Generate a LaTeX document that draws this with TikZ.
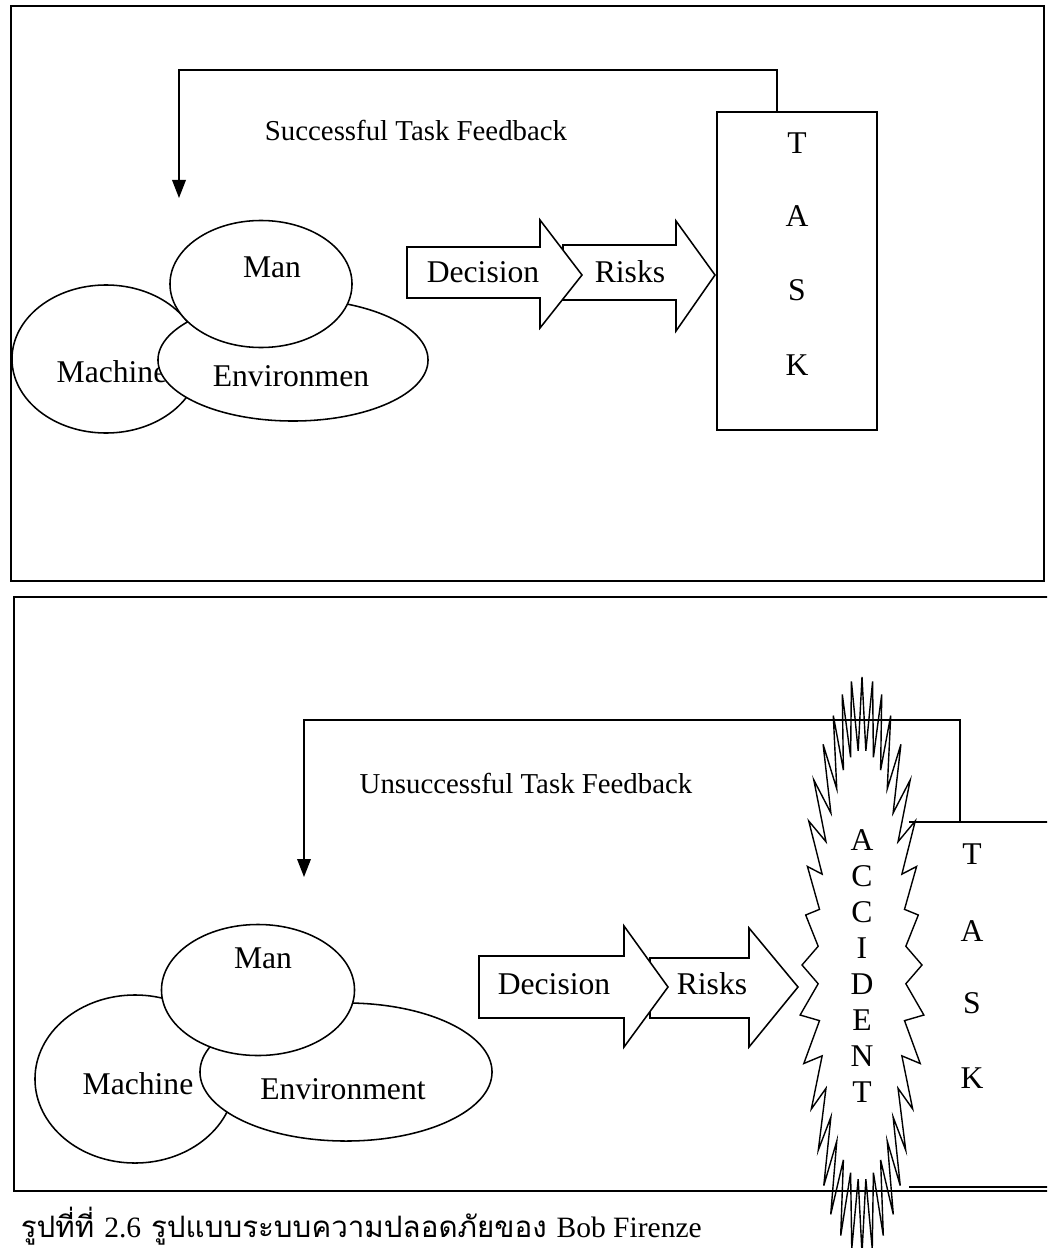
\documentclass[tikz,border=0pt]{standalone}
\usepackage{fontspec}
\setmainfont{Liberation Serif}
\newfontfamily\thaifont[Script=Thai]{Loma}
\usetikzlibrary{shapes.geometric}
\usetikzlibrary{arrows.meta}
\usetikzlibrary{calc}

\begin{document}
\begin{tikzpicture}[x=0.025cm,y=-0.025cm,line width=1.1pt,
  blob/.style={draw,ellipse,fill=white,inner sep=0pt},
  txt/.style={inner sep=0pt,font=\fontsize{22.5}{24}\selectfont},
  fbtxt/.style={inner sep=0pt,font=\fontsize{20.5}{22}\selectfont},
  fback/.style={-{Triangle[length=0.45cm,width=0.34cm]}},
  barrow/.style={draw,fill=white,line join=miter}]
  \useasboundingbox (0,0) rectangle (1047,1248);
  \clip (0,0) rectangle (1047,1248);

  % successful task
  \draw (11,6) rectangle (1044,581);
  \node[draw,minimum width=4cm,minimum height=7.95cm,inner sep=0pt] (task1) at (797,271) {};
  \foreach \ch/\y in {T/143,A/216,S/290,K/365}
    \node[txt] (task1\ch) at (797,\y) {\ch};

  \coordinate (in1) at (179,198);
  \draw[fback] ($(task1.north west)+(61,0)$) |- ($(in1)+(0,-128)$) -- (in1);
  \node[fbtxt] (fb1) at (416,130) {Successful Task Feedback};

  \draw[barrow] (563,245) -- (676,245) -- (676,221) -- (715,275) -- (676,331) -- (676,300) -- (563,300) -- cycle;
  \draw[barrow] (407,247) -- (540,247) -- (540,220) -- (582,275) -- (540,328) -- (540,298) -- (407,298) -- cycle;
  \node[txt] (dec1) at (483,272) {Decision};
  \node[txt] (risk1) at (630,272) {Risks};

  \node[blob,minimum width=4.7cm,minimum height=3.7cm] (mach1) at (106,359) {};
  \node[txt] (mach1t) at (112,372) {Machine};
  \node[blob,minimum width=6.75cm,minimum height=3.05cm] (env1) at (293,360) {};
  \node[txt] (env1t) at (291,376) {Environmen};
  \node[blob,minimum width=4.55cm,minimum height=3.175cm] (man1) at (261,284) {};
  \node[txt] (man1t) at (272,267) {Man};

  % unsuccessful task
  \node[minimum width=5cm,minimum height=9.075cm,inner sep=0pt] (task2) at (1010,1004.5) {};
  \draw (task2.north west) -- (task2.north east) (task2.south west) -- (task2.south east);
  \foreach \ch/\y in {T/854,A/931,S/1003,K/1078}
    \node[txt] (task2\ch) at (972,\y) {\ch};

  \draw[fill=white,line join=miter,line width=1pt] ({862+44*cos(-5)},{965+215*sin(-5)})
    \foreach \a in {0,10,...,350} {
      -- ({862+(60+3*sin(7*\a))*cos(\a)},{965+288*sin(\a)})
      -- ({862+44*cos(\a+5)},{965+215*sin(\a+5)}) } -- cycle;
  \foreach \ch [count=\i] in {A,C,C,I,D,E,N,T}
    \node[txt] (acc\i) at (862,804+36*\i) {\ch};

  \draw (1060,597) -- (14,597) -- (14,1191) -- (1060,1191);

  \coordinate (in2) at (304,877);
  \draw[fback] ($(task2.north west)+(51,0)$) |- ($(in2)+(0,-157)$) -- (in2);
  \node[fbtxt] (fb2) at (526,783) {Unsuccessful Task Feedback};

  \draw[barrow] (650,958) -- (749,958) -- (749,928) -- (798,987) -- (749,1047) -- (749,1018) -- (650,1018) -- cycle;
  \draw[barrow] (479,956) -- (624,956) -- (624,926) -- (668,987) -- (624,1047) -- (624,1018) -- (479,1018) -- cycle;
  \node[txt] (dec2) at (554,984) {Decision};
  \node[txt] (risk2) at (712,984) {Risks};

  \node[blob,minimum width=5cm,minimum height=4.2cm] (mach2) at (135,1079) {};
  \node[txt] (mach2t) at (138,1084) {Machine};
  \node[blob,minimum width=7.3cm,minimum height=3.45cm] (env2) at (346,1072) {};
  \node[txt] (env2t) at (343,1089) {Environment};
  \node[blob,minimum width=4.825cm,minimum height=3.275cm] (man2) at (258,990) {};
  \node[txt] (man2t) at (263,958) {Man};

  \node[anchor=west,inner sep=0pt,font=\thaifont\fontsize{21}{24}\selectfont] (cap) at (20,1226)
    {รูปที่ที่ {\rmfamily 2.6} รูปแบบระบบความปลอดภัยของ {\rmfamily Bob Firenze}};
\end{tikzpicture}
\end{document}
